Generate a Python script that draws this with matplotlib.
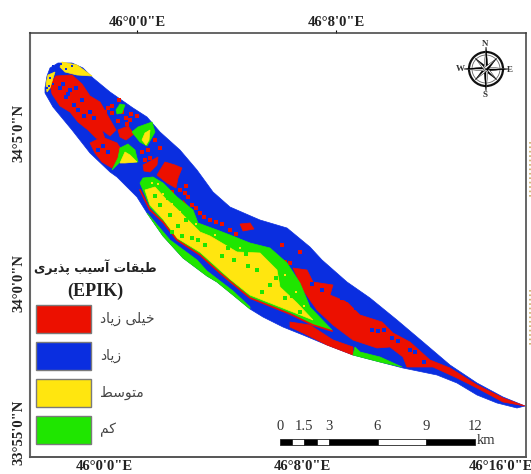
import numpy as np
from matplotlib import pyplot as plt
from matplotlib.patches import Circle, Polygon, Rectangle

# map outlines, in image pixels
basin = [(45, 88), (47, 76), (50, 68), (58, 63), (72, 63), (83, 68), (93, 78), (110, 92), (133, 108), (147, 117),
         (160, 132), (180, 150), (197, 170), (213, 192), (230, 207), (253, 217), (260, 220), (287, 228), (310, 247),
         (322, 260), (347, 282), (370, 298), (397, 320), (423, 342), (450, 365), (477, 383), (503, 397), (525, 406),
         (517, 408), (497, 403), (477, 395), (457, 383), (437, 375), (403, 368), (380, 362), (353, 355), (327, 345),
         (303, 335), (283, 327), (263, 317), (250, 309), (233, 295), (217, 282), (207, 276), (183, 258), (163, 236),
         (147, 213), (137, 197), (117, 177), (110, 172), (90, 153), (72, 130), (53, 107), (45, 93)]
red_nw = [(56, 76), (72, 75), (82, 84), (90, 96), (100, 102), (108, 116), (116, 130), (110, 136), (102, 130), (106, 142),
          (96, 138), (88, 130), (78, 122), (70, 112), (60, 106), (52, 94), (50, 84)]
red_mid = [(90, 143), (102, 137), (117, 143), (123, 152), (117, 160), (112, 168), (102, 162), (95, 153)]
red_a = [(118, 130), (128, 126), (134, 134), (126, 140), (120, 137)]
red_b = [(143, 165), (158, 157), (157, 165), (150, 172), (144, 171)]
red_c = [(157, 175), (165, 162), (175, 165), (182, 168), (178, 178), (176, 188), (167, 183)]
red_d = [(183, 200), (192, 212), (198, 226), (206, 232), (196, 228), (186, 214)]
red_e = [(240, 224), (250, 223), (254, 229), (243, 231)]
red_se = [(293, 268), (307, 270), (313, 282), (333, 285), (330, 295), (347, 302), (360, 315), (382, 322), (393, 333),
          (410, 342), (430, 360), (450, 368), (477, 385), (503, 398), (525, 406), (503, 402), (477, 388), (457, 378),
          (433, 367), (407, 367), (403, 357), (390, 347), (377, 348), (353, 340), (333, 325), (317, 310), (303, 290)]
red_low = [(290, 322), (310, 325), (333, 340), (353, 347), (353, 355), (327, 345), (303, 333), (290, 327)]
red_edge = [(140, 190), (150, 210), (163, 222), (177, 240), (200, 255), (220, 273), (250, 298), (290, 314), (313, 325),
            (332, 331)]
green_main = [(140, 183), (143, 178), (153, 177), (163, 183), (177, 197), (193, 210), (198, 223), (217, 230), (230, 235),
              (250, 243), (270, 248), (287, 263), (300, 283), (310, 307), (332, 330), (313, 325), (293, 314), (250, 297),
              (230, 282), (210, 264), (200, 254), (177, 240), (163, 221), (150, 207), (143, 190)]
yellow_main = [(145, 190), (155, 187), (165, 198), (177, 209), (190, 222), (200, 232), (210, 236), (237, 252),
               (260, 253), (277, 270), (280, 287), (297, 303), (313, 320), (293, 312), (250, 295), (230, 279), (210, 261),
               (200, 252), (177, 238), (163, 219), (150, 205)]
green_strip = [(147, 213), (153, 220), (170, 240), (197, 260), (207, 271), (233, 291), (250, 307), (250, 309), (233, 295),
               (217, 282), (207, 276), (183, 258), (163, 236)]
green_low = [(355, 347), (360, 352), (380, 357), (402, 367), (380, 362), (353, 355)]
green_1 = [(116, 110), (120, 104), (125, 105), (122, 113), (117, 114)]
green_2 = [(132, 132), (138, 127), (152, 122), (155, 132), (147, 146), (140, 142)]
yellow_2 = [(145, 133), (150, 130), (149, 140), (146, 145), (142, 140)]
green_3 = [(112, 170), (118, 158), (120, 148), (128, 144), (135, 150), (138, 162), (130, 162), (120, 162)]
yellow_3 = [(125, 152), (130, 155), (137, 162), (125, 163), (120, 163)]
yellow_tip = [(62, 62), (77, 65), (92, 76), (77, 75), (65, 72), (60, 67)]
yellow_side = [(48, 75), (55, 72), (50, 88), (47, 92), (46, 84)]

# loose cells
red_cells_x = [119, 126, 131, 137, 130, 118, 112, 108, 105, 142, 148, 155, 160, 150, 145, 185, 188, 192, 196, 200, 204, 210,
               216, 222, 230, 236, 282, 285, 290, 300, 127, 122, 112, 180, 186, 172]
red_cells_y = [100, 118, 114, 116, 120, 121, 113, 108, 112, 152, 150, 140, 148, 158, 160, 193, 197, 205, 208, 213, 217, 220,
               222, 224, 230, 234, 245, 262, 263, 252, 124, 112, 106, 190, 186, 192]
blue_cells_x = [63, 70, 66, 76, 82, 74, 90, 94, 84, 103, 98, 108, 60, 68, 78, 338, 342, 348, 356, 362, 372, 378, 384, 392,
                398, 410, 415, 424, 435, 312, 322]
blue_cells_y = [84, 90, 97, 88, 100, 105, 112, 118, 116, 146, 150, 152, 88, 94, 110, 292, 298, 300, 308, 312, 330, 331, 330,
                338, 341, 350, 352, 362, 358, 284, 290]
green_cells_x = [160, 170, 178, 186, 172, 192, 205, 222, 234, 248, 257, 270, 276, 262, 285, 292, 300, 246, 228, 168, 155,
                 182, 198]
green_cells_y = [205, 215, 226, 220, 232, 238, 245, 256, 260, 266, 270, 285, 278, 292, 298, 296, 312, 254, 248, 198, 196, 236, 240]
yellow_cells_x = [152, 158, 163, 172, 180, 196, 215, 240, 285, 296, 304]
yellow_cells_y = [183, 184, 194, 204, 212, 224, 235, 248, 275, 292, 306]
tip_blue_x = [53, 57, 61, 59, 50, 49, 53, 47, 72, 66]
tip_blue_y = [66, 70, 64, 74, 78, 86, 84, 88, 66, 69]

# frame ticks
top_ticks = [137, 336]
top_labels = ['46°0\'0"E', '46°8\'0"E']
bottom_ticks = [104, 302, 501]
bottom_labels = ['46°0\'0"E', '46°8\'0"E', '46°16\'0"E']
left_ticks = [133, 283, 432]
left_labels = ['34°5\'0"N', '34°0\'0"N', '33°55\'0"N']

legend_title = 'طبقات آسیب پذیری'
legend_labels = ['خیلی زیاد', 'زیاد', 'متوسط', 'کم']
scale_km = [0, 1.5, 3, 6, 9, 12]
scale_cuts = [0, 0.75, 1.5, 2.25, 3, 6, 9, 12]

RED = '#ec1000'
BLUE = '#0a2ee0'
YELLOW = '#ffe60f'
GREEN = '#1fe600'
legend_colors = [RED, BLUE, YELLOW, GREEN]

# isolated, final, initial, medial presentation forms
forms = {
    'ط': 'ﻁﻂﻃﻄ', 'ب': 'ﺏﺐﺑﺒ', 'ق': 'ﻕﻖﻗﻘ', 'ا': 'ﺍﺎﺍﺎ', 'ت': 'ﺕﺖﺗﺘ', 'آ': 'ﺁﺂﺁﺂ', 'س': 'ﺱﺲﺳﺴ',
    'ی': 'ﯼﯽﯾﯿ', 'پ': 'ﭖﭗﭘﭙ', 'ذ': 'ﺫﺬﺫﺬ', 'ر': 'ﺭﺮﺭﺮ', 'خ': 'ﺥﺦﺧﺨ', 'ل': 'ﻝﻞﻟﻠ', 'ز': 'ﺯﺰﺯﺰ',
    'د': 'ﺩﺪﺩﺪ', 'م': 'ﻡﻢﻣﻤ', 'و': 'ﻭﻮﻭﻮ', 'ک': 'ﮎﮏﮐﮑ',
}
no_left_join = set('اآذرزدو')


# matplotlib does no Arabic shaping, so pick the joined glyphs and lay them out left to right
def shape(text):
    out = []
    for i, ch in enumerate(text):
        if ch not in forms:
            out.append(ch)
            continue
        before = i > 0 and text[i - 1] in forms and text[i - 1] not in no_left_join
        after = i < len(text) - 1 and text[i + 1] in forms and ch not in no_left_join
        out.append(forms[ch][(2 if after else 0) + (1 if before else 0) if after else (1 if before else 0)])
    return ''.join(reversed(out))


plt.rcParams['font.family'] = ['Liberation Serif', 'DejaVu Serif']

fig = plt.figure(figsize=(5.31, 4.74), dpi=100)
ax = fig.add_axes([30 / 531, 1 - 457 / 474, 496 / 531, 424 / 474])
ax.set_xlim(30, 526)
ax.set_ylim(457, 33)

for spine in ax.spines.values():
    spine.set_color('#3c3c3c')
    spine.set_linewidth(1.1)
ax.spines['left'].set_linewidth(1.5)
ax.spines['left'].set_color('#666666')
ax.spines['bottom'].set_linewidth(1.4)
ax.spines['bottom'].set_color('#555555')

ax.set_xticks(bottom_ticks, bottom_labels, fontsize=10.5, fontweight='bold', color='#222222')
ax.tick_params(axis='x', length=0, pad=2.5)
ax.set_yticks(left_ticks, left_labels, fontsize=10.5, fontweight='bold', color='#222222', rotation=90, va='center')
ax.tick_params(axis='y', length=0, pad=3)
top = ax.secondary_xaxis('top')
top.set_xticks(top_ticks, top_labels, fontsize=10.5, fontweight='bold', color='#222222')
top.tick_params(length=2, width=0.8, pad=1)
top.spines['top'].set_visible(False)


def fill(points, color, z):
    ax.add_patch(Polygon(points, closed=True, facecolor=color, edgecolor=color, linewidth=0.5, zorder=z))


fill(basin, BLUE, 2)
for part in [red_nw, red_mid, red_a, red_b, red_c, red_d, red_e, red_se, red_low]:
    fill(part, RED, 3)
ax.scatter(red_cells_x, red_cells_y, s=5, marker='s', color=RED, linewidths=0, zorder=3)
ax.scatter(blue_cells_x, blue_cells_y, s=5, marker='s', color=BLUE, linewidths=0, zorder=4)
for part in [green_main, green_strip, green_low, green_1, green_2, green_3]:
    fill(part, GREEN, 5)
for part in [yellow_main, yellow_2, yellow_3, yellow_tip, yellow_side]:
    fill(part, YELLOW, 6)
ax.plot(*zip(*red_edge), color=RED, lw=1.2, zorder=7)
ax.scatter(green_cells_x, green_cells_y, s=6, marker='s', color=GREEN, linewidths=0, zorder=7)
ax.scatter(yellow_cells_x, yellow_cells_y, s=4, marker='s', color=YELLOW, linewidths=0, zorder=5.5)
ax.scatter(tip_blue_x, tip_blue_y, s=4, marker='s', color=BLUE, linewidths=0, zorder=7)

# legend
ax.text(95, 267, shape(legend_title), family=['DejaVu Sans'], fontweight='bold', fontsize=9, color='#222222',
        ha='center', va='center', zorder=9)
ax.text(95, 291, '(EPIK)', fontsize=13, fontweight='bold', color='#222222', ha='center', va='center', zorder=9)
for i, (name, col) in enumerate(zip(legend_labels, legend_colors)):
    y0 = 305 + i * 37.1
    ax.add_patch(Rectangle((36, y0), 55, 28, facecolor=col, edgecolor='#7a7a7a', linewidth=1.0, zorder=9))
    ax.text(100, y0 + 14, shape(name), family=['DejaVu Sans'], fontsize=10, color='#444444', ha='left', va='center', zorder=9)

# scale bar
km_px = 16.25
for i in range(len(scale_cuts) - 1):
    x0 = 280 + scale_cuts[i] * km_px
    w = (scale_cuts[i + 1] - scale_cuts[i]) * km_px
    ax.add_patch(Rectangle((x0, 439), w, 6, facecolor='black' if i % 2 == 0 else 'white', edgecolor='#222222', linewidth=0.6, zorder=9))
for km in scale_km:
    ax.text(280 + km * km_px, 426, f'{km:g}', fontsize=10.5, color='#333333', ha='center', va='center', zorder=9)
ax.text(477, 440, 'km', fontsize=10.5, color='#333333', ha='left', va='center', zorder=9)

# north arrow
cx, cy = 486, 69
ax.add_patch(Circle((cx, cy), 17, facecolor='none', edgecolor='#111111', linewidth=1.6, zorder=9))
ax.add_patch(Circle((cx, cy), 14, facecolor='none', edgecolor='#666666', linewidth=0.6, zorder=9))
for deg, r in zip(np.arange(0, 360, 45), [22, 15, 22, 15, 22, 15, 22, 15]):
    a = np.deg2rad(deg)
    b = a + np.pi / 2
    tip = (cx + r * np.cos(a), cy + r * np.sin(a))
    side = (cx + 2.2 * np.cos(b), cy + 2.2 * np.sin(b))
    other = (cx - 2.2 * np.cos(b), cy - 2.2 * np.sin(b))
    ax.add_patch(Polygon([(cx, cy), tip, side], facecolor='black', edgecolor='black', linewidth=0.3, zorder=10))
    ax.add_patch(Polygon([(cx, cy), tip, other], facecolor='white', edgecolor='black', linewidth=0.3, zorder=10))
for letter, lx, ly in [('N', 485, 44), ('S', 485, 95), ('W', 460, 69), ('E', 510, 70)]:
    ax.text(lx, ly, letter, fontsize=6.5, fontweight='bold', color='#333333', ha='center', va='center', zorder=10)

# stray marks at the right edge of the page
for y0, y1 in [(142, 198), (290, 347)]:
    ax.plot([530, 530], [y0, y1], ls=':', lw=1.2, color='#c9a862', clip_on=False)

fig.savefig('out.png', dpi=100)
